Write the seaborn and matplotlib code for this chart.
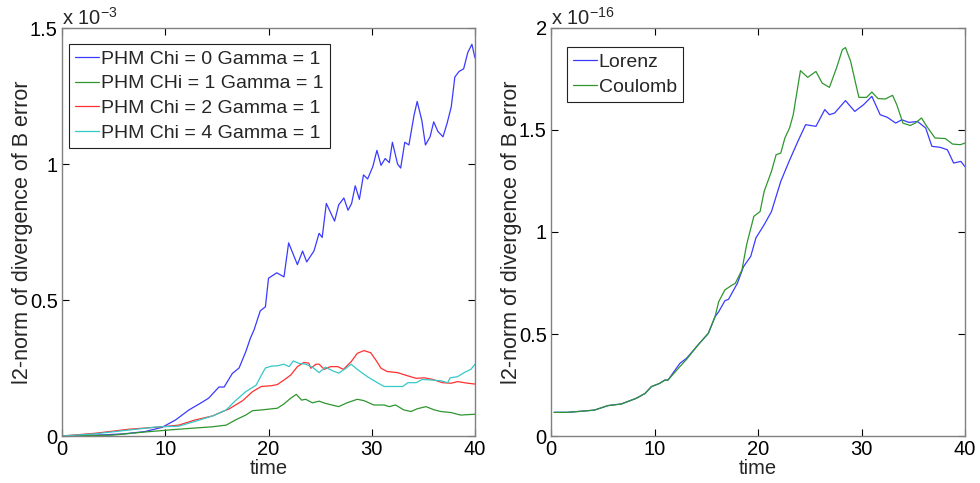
import numpy as np
import pandas as pd
import matplotlib
matplotlib.use("Agg")
import matplotlib.pyplot as plt
import seaborn as sns

# ---------------- data (left panel, units of 1e-3) ----------------
t_chi0 = [0, 2, 4, 6, 8, 9.7, 11.0, 12.3, 13.3, 14.2, 15.2, 15.7, 16.5, 17.15, 17.8, 18.25,
          18.6, 19.2, 19.7, 20.0, 20.8, 21.5, 21.95, 22.8, 23.3, 23.7, 24.4, 24.9, 25.2, 25.6,
          26.4, 26.8, 27.3, 27.7, 28.05, 28.4, 28.8, 29.2, 29.6, 30.1, 30.5, 30.9, 31.3, 31.7,
          32.0, 32.5, 32.8, 33.2, 33.6, 34.1, 34.4, 34.85, 35.2, 35.65, 36.0, 36.4, 36.9, 37.3,
          37.7, 38.05, 38.45, 38.9, 39.3, 39.7, 40.0]
v_chi0 = [0, 0.002, 0.004, 0.008, 0.016, 0.032, 0.059, 0.096, 0.118, 0.139, 0.18, 0.18, 0.23, 0.25,
          0.31, 0.36, 0.39, 0.46, 0.475, 0.58, 0.60, 0.585, 0.71, 0.63, 0.68, 0.64, 0.68, 0.745,
          0.73, 0.855, 0.79, 0.85, 0.875, 0.83, 0.855, 0.92, 0.87, 0.96, 0.945, 0.99, 1.05, 0.995,
          1.02, 1.005, 1.08, 1.00, 0.985, 1.08, 1.07, 1.18, 1.23, 1.16, 1.07, 1.10, 1.155, 1.12,
          1.10, 1.15, 1.21, 1.32, 1.34, 1.35, 1.41, 1.44, 1.39]

t_chi1 = [0, 4.85, 8.1, 11.3, 14.6, 15.9, 16.8, 17.8, 18.45, 19.4, 20.3, 20.85, 21.5, 22.15,
          22.7, 23.2, 23.6, 24.25, 24.9, 25.5, 26.8, 27.6, 28.6, 29.25, 30.2, 31.2, 31.7, 32.3,
          33.1, 33.8, 34.4, 35.25, 36.05, 36.7, 37.7, 38.6, 40.0]
v_chi1 = [0, 0.003, 0.015, 0.025, 0.034, 0.04, 0.059, 0.077, 0.093, 0.096, 0.10, 0.102, 0.118,
          0.139, 0.153, 0.132, 0.135, 0.122, 0.128, 0.120, 0.108, 0.122, 0.135, 0.130, 0.114,
          0.114, 0.108, 0.114, 0.096, 0.090, 0.100, 0.108, 0.096, 0.090, 0.086, 0.077, 0.080]

t_chi2 = [0, 3.2, 6.5, 9.7, 11.3, 12.9, 14.6, 16.2, 17.5, 18.45, 19.3, 20.3, 20.85, 21.5, 22.15,
          22.8, 23.4, 23.9, 24.1, 24.6, 24.9, 25.4, 26.0, 26.7, 27.25, 28.0, 28.6, 29.25, 29.9,
          30.4, 30.9, 31.5, 32.5, 33.5, 34.3, 35.1, 35.9, 36.85, 37.7, 38.3, 39.3, 40.0]
v_chi2 = [0, 0.01, 0.025, 0.034, 0.04, 0.059, 0.074, 0.10, 0.13, 0.163, 0.182, 0.185, 0.189,
          0.206, 0.224, 0.255, 0.270, 0.268, 0.249, 0.264, 0.264, 0.245, 0.255, 0.255, 0.245,
          0.273, 0.304, 0.314, 0.306, 0.279, 0.249, 0.237, 0.233, 0.221, 0.212, 0.214, 0.208,
          0.196, 0.194, 0.200, 0.194, 0.191]

t_chi4 = [0, 3.2, 6.5, 9.4, 11.3, 12.9, 14.6, 15.9, 16.8, 17.8, 18.8, 19.4, 19.7, 20.3, 20.85,
          21.5, 22.0, 22.4, 22.95, 23.6, 24.25, 24.9, 25.5, 26.2, 26.8, 27.5, 28.0, 28.6, 29.58,
          30.55, 31.2, 32.2, 33.0, 33.5, 34.3, 34.9, 35.7, 36.7, 37.35, 37.6, 38.3, 38.95, 39.6,
          40.0]
v_chi4 = [0, 0.008, 0.022, 0.034, 0.036, 0.054, 0.074, 0.096, 0.13, 0.163, 0.187, 0.23, 0.25,
          0.257, 0.258, 0.264, 0.255, 0.276, 0.267, 0.264, 0.253, 0.233, 0.253, 0.240, 0.231,
          0.249, 0.264, 0.245, 0.218, 0.196, 0.182, 0.182, 0.182, 0.196, 0.196, 0.208, 0.206,
          0.203, 0.196, 0.214, 0.218, 0.233, 0.245, 0.264]

left_labels = ["PHM Chi = 0 Gamma = 1", "PHM CHi = 1 Gamma = 1",
               "PHM Chi = 2 Gamma = 1", "PHM Chi = 4 Gamma = 1"]

# ---------------- data (right panel, units of 1e-16) ----------------
t_lorenz = [0.3, 1.6, 3.2, 4.2, 5.5, 6.8, 8.25, 9.1, 9.7, 10.5, 11.0, 11.3, 12.45, 13.1, 14.2,
            15.2, 15.85, 16.2, 16.8, 17.15, 18.0, 18.6, 19.3, 19.8, 20.6, 21.3, 22.2, 23.0,
            23.85, 24.6, 25.6, 26.45, 26.9, 27.4, 28.45, 29.35, 30.2, 31.0, 31.8, 32.5, 33.3,
            33.9, 34.6, 35.4, 36.2, 36.8, 37.6, 38.3, 38.9, 39.6, 40.0]
v_lorenz = [0.116, 0.116, 0.1225, 0.127, 0.149, 0.157, 0.185, 0.209, 0.242, 0.258, 0.274,
            0.274, 0.356, 0.381, 0.446, 0.503, 0.585, 0.609, 0.663, 0.670, 0.748, 0.830, 0.881,
            0.971, 1.036, 1.10, 1.248, 1.346, 1.444, 1.526, 1.518, 1.60, 1.575, 1.583, 1.644,
            1.591, 1.624, 1.665, 1.575, 1.562, 1.534, 1.55, 1.537, 1.542, 1.51, 1.42, 1.415,
            1.403, 1.338, 1.346, 1.32]

t_coulomb = [0.3, 1.6, 3.2, 4.2, 5.5, 6.8, 8.25, 9.1, 9.7, 10.5, 11.0, 11.3, 12.45, 13.1, 14.2,
             15.2, 15.85, 16.2, 16.8, 17.5, 17.8, 18.45, 18.9, 19.6, 20.2, 20.6, 21.3, 21.75,
             22.2, 22.6, 23.05, 23.4, 24.1, 24.8, 25.6, 26.2, 26.9, 27.6, 28.15, 28.45, 28.95,
             29.45, 29.75, 30.5, 31.0, 31.6, 32.3, 33.0, 33.4, 34.0, 34.7, 35.2, 35.8, 36.3,
             37.1, 38.1, 38.8, 39.55, 40.0]
v_coulomb = [0.116, 0.116, 0.1225, 0.127, 0.149, 0.157, 0.185, 0.209, 0.242, 0.258, 0.274,
             0.274, 0.340, 0.376, 0.446, 0.503, 0.585, 0.658, 0.716, 0.74, 0.748, 0.814, 0.938,
             1.077, 1.10, 1.20, 1.297, 1.379, 1.387, 1.461, 1.51, 1.574, 1.791, 1.758, 1.787,
             1.730, 1.709, 1.806, 1.894, 1.904, 1.837, 1.725, 1.66, 1.66, 1.686, 1.654, 1.652,
             1.67, 1.625, 1.534, 1.522, 1.534, 1.559, 1.518, 1.461, 1.458, 1.431, 1.428, 1.436]

right_labels = ["Lorenz", "Coulomb"]

x_ticks = [0, 10, 20, 30, 40]
left_yticks = [0, 0.5, 1, 1.5]
left_yticklabels = ["0", "0.5", "1", "1.5"]
right_yticks = [0, 0.5, 1, 1.5, 2]
right_yticklabels = ["0", "0.5", "1", "1.5", "2"]

# ---------------- style ----------------
sns.set_style("white")
plt.rcParams['font.family'] = ['Liberation Sans', 'DejaVu Sans']
plt.rcParams['mathtext.fontset'] = 'custom'
plt.rcParams['mathtext.rm'] = 'Liberation Sans'
plt.rcParams['mathtext.it'] = 'Liberation Sans'
FS = 14.5
LFS = 14

C_BLUE = '#3a3aff'
C_GREEN = '#2f962f'
C_RED = '#ff3030'
C_CYAN = '#35c8c8'
SPINE = '#808080'

fig = plt.figure(figsize=(9.8, 4.83), dpi=100)
ax1 = fig.add_axes([62 / 980, 47 / 483, 413 / 980, 408 / 483])
ax2 = fig.add_axes([551 / 980, 47 / 483, 414 / 980, 408 / 483])


def draw(ax, t, v, color, label):
    df = pd.DataFrame({"time": t, "val": v})
    sns.lineplot(data=df, x="time", y="val", ax=ax, color=color, lw=0.9,
                 label=label, sort=False, estimator=None)


draw(ax1, t_chi0, v_chi0, C_BLUE, left_labels[0])
draw(ax1, t_chi1, v_chi1, C_GREEN, left_labels[1])
draw(ax1, t_chi2, v_chi2, C_RED, left_labels[2])
draw(ax1, t_chi4, v_chi4, C_CYAN, left_labels[3])

draw(ax2, t_lorenz, v_lorenz, C_BLUE, right_labels[0])
draw(ax2, t_coulomb, v_coulomb, C_GREEN, right_labels[1])

for ax, yt, ytl, ymax, expo in [(ax1, left_yticks, left_yticklabels, 1.5, '-3'),
                                 (ax2, right_yticks, right_yticklabels, 2, '-16')]:
    ax.set_xlim(0, 40)
    ax.set_ylim(0, ymax)
    ax.set_xticks(x_ticks)
    ax.set_xticklabels([str(x) for x in x_ticks])
    ax.set_yticks(yt)
    ax.set_yticklabels(ytl)
    ax.tick_params(direction='in', length=5, width=0.8, colors='black', labelsize=FS,
                   top=True, right=True, bottom=True, left=True)
    ax.tick_params(axis='x', pad=3)
    ax.tick_params(axis='y', pad=3)
    for s in ax.spines.values():
        s.set_visible(True)
        s.set_color(SPINE)
        s.set_linewidth(1.0)
    ax.set_xlabel("time", fontsize=FS, labelpad=0)
    ax.set_ylabel("l2-norm of divergence of B error", fontsize=15.5, labelpad=-2)
    ax.text(0.0, 1.008, r"x 10$^{" + expo.replace('-', '\u2212') + "}$", transform=ax.transAxes,
            fontsize=FS, ha='left', va='baseline')

leg1 = ax1.legend(loc='upper left', bbox_to_anchor=(0.017, 0.961), borderaxespad=0,
                  fontsize=LFS, frameon=True, fancybox=False, handlelength=1.2,
                  handletextpad=0.12, labelspacing=0.36, borderpad=0.32)
leg2 = ax2.legend(loc='upper left', bbox_to_anchor=(0.0386, 0.953), borderaxespad=0,
                  fontsize=LFS, frameon=True, fancybox=False, handlelength=1.2,
                  handletextpad=0.12, labelspacing=0.36, borderpad=0.32)
for leg in (leg1, leg2):
    fr = leg.get_frame()
    fr.set_edgecolor('#222222')
    fr.set_linewidth(0.8)
    fr.set_alpha(1)

fig.savefig("out.png", dpi=100, facecolor='white')
